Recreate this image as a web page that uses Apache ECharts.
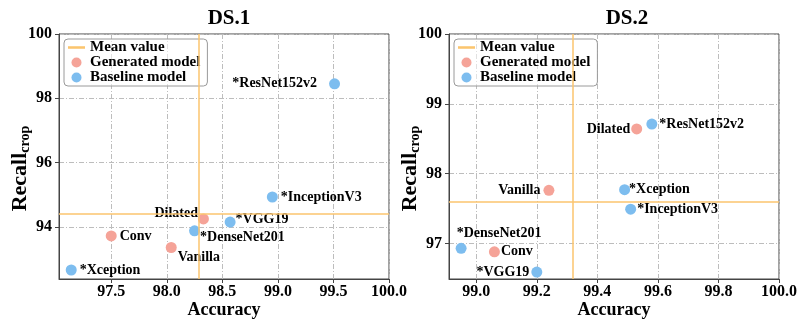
<!DOCTYPE html>
<html>
<head>
<meta charset="utf-8">
<script src="https://cdn.jsdelivr.net/npm/echarts@6/dist/echarts.min.js"></script>
<style>
  html, body { margin: 0; padding: 0; background: #fff; }
  #main { width: 809px; height: 330px; }
</style>
</head>
<body>
<div id="main"></div>
<script>
// ---- data ----
var ds1GenNames = ['Dilated', 'Conv', 'Vanilla'];
var ds1GenAcc = [98.33, 97.50, 98.04];
var ds1GenRecall = [94.25, 93.72, 93.36];

var ds1BaseNames = ['*ResNet152v2', '*InceptionV3', '*VGG19', '*DenseNet201', '*Xception'];
var ds1BaseAcc = [99.51, 98.95, 98.57, 98.25, 97.14];
var ds1BaseRecall = [98.45, 94.93, 94.15, 93.88, 92.66];

var ds2GenNames = ['Dilated', 'Vanilla', 'Conv'];
var ds2GenAcc = [99.53, 99.24, 99.06];
var ds2GenRecall = [98.64, 97.76, 96.88];

var ds2BaseNames = ['*ResNet152v2', '*Xception', '*InceptionV3', '*DenseNet201', '*VGG19'];
var ds2BaseAcc = [99.58, 99.49, 99.51, 98.95, 99.20];
var ds2BaseRecall = [98.71, 97.77, 97.49, 96.93, 96.59];

var ds1XTicks = [97.5, 98.0, 98.5, 99.0, 99.5, 100.0];
var ds1YTicks = [94, 96, 98, 100];
var ds2XTicks = [99.0, 99.2, 99.4, 99.6, 99.8, 100.0];
var ds2YTicks = [97, 98, 99, 100];

var ds1XRange = [97.03, 100];
var ds1YRange = [92.38, 100];
var ds2XRange = [98.91, 100];
var ds2YRange = [96.49, 100];

// ---- styling ----
var FONT = '"Liberation Serif", "Times New Roman", serif';
var GEN_COLOR = '#F5A398';
var BASE_COLOR = '#7DBDEF';
var MEAN_COLOR = '#FBC56E';
var GRID_LINE = { color: '#bdbdbd', width: 1, type: [5, 2, 1, 2] };
// thin bar for the "Mean value" legend entry (the bare M points keep the box 20x10)
var MEAN_ICON = 'path://M0,0 M0,3.5 L20,3.5 L20,6.5 L0,6.5 Z M20,10';

// where each point label sits (per chart)
var labelPos1 = {
  'Dilated': { position: 'left', distance: 0, offset: [0, -5] },
  'Conv': { position: 'right', distance: 3 },
  'Vanilla': { position: 'right', distance: 1, offset: [0, 10] },
  '*ResNet152v2': { position: 'left', distance: 12 },
  '*InceptionV3': { position: 'right', distance: 3 },
  '*VGG19': { position: 'right', distance: 0, offset: [0, -3] },
  '*DenseNet201': { position: 'right', distance: 0, offset: [0, 7] },
  '*Xception': { position: 'right', distance: 3 }
};
var labelPos2 = {
  'Dilated': { position: 'left', distance: 1 },
  'Vanilla': { position: 'left', distance: 3 },
  'Conv': { position: 'right', distance: 1 },
  '*ResNet152v2': { position: 'right', distance: 2 },
  '*Xception': { position: 'right', distance: -1 },
  '*InceptionV3': { position: 'right', distance: 1 },
  '*DenseNet201': { position: 'top', distance: 2, offset: [38, 0] },
  '*VGG19': { position: 'left', distance: 2 }
};

function points(names, xs, ys, pos) {
  return names.map(function (n, i) {
    return { name: n, value: [xs[i], ys[i]], label: pos[n] };
  });
}

function mean(arr) {
  var s = 0;
  arr.forEach(function (v) { s += v; });
  return s / arr.length;
}

var pointLabel = {
  show: true,
  formatter: '{b}',
  color: '#000',
  fontFamily: FONT,
  fontWeight: 'bold',
  fontSize: 14
};

function scatter(name, color, idx, data) {
  return {
    name: name,
    type: 'scatter',
    xAxisIndex: idx,
    yAxisIndex: idx,
    symbolSize: 11,
    itemStyle: { color: color, opacity: 1 },
    label: pointLabel,
    data: data,
    z: 3
  };
}

function meanSeries(idx, mx, my) {
  return {
    name: 'Mean value',
    type: 'line',
    xAxisIndex: idx,
    yAxisIndex: idx,
    symbol: 'none',
    lineStyle: { color: MEAN_COLOR, width: 3 },
    itemStyle: { color: MEAN_COLOR },
    data: [[mx, my]],
    markLine: {
      silent: true,
      symbol: ['none', 'none'],
      label: { show: false },
      lineStyle: { color: MEAN_COLOR, width: 1.5, type: 'solid' },
      emphasis: { disabled: true },
      data: [{ xAxis: mx }, { yAxis: my }]
    },
    z: 2
  };
}

function xAxis(idx, range, ticks) {
  return {
    type: 'value',
    gridIndex: idx,
    min: range[0],
    max: range[1],
    name: 'Accuracy',
    nameLocation: 'middle',
    nameGap: 22,
    nameMoveOverlap: false,
    nameTextStyle: { fontFamily: FONT, fontWeight: 'bold', fontSize: 18, color: '#000' },
    axisLine: { show: true, lineStyle: { color: '#444', width: 1 } },
    axisTick: { show: true, length: 4, lineStyle: { color: '#444' }, customValues: ticks },
    axisLabel: {
      customValues: ticks,
      margin: 5,
      color: '#000',
      fontFamily: FONT,
      fontWeight: 'bold',
      fontSize: 16,
      formatter: function (v) { return v.toFixed(1); }
    },
    splitLine: { show: true, lineStyle: GRID_LINE }
  };
}

function yAxis(idx, range, ticks) {
  return {
    type: 'value',
    gridIndex: idx,
    min: range[0],
    max: range[1],
    name: '{a|Recall}{b|crop}',
    nameLocation: 'middle',
    nameGap: 27,
    nameMoveOverlap: false,
    nameRotate: 90,
    nameTextStyle: {
      padding: [0, 24, 0, 0],
      rich: {
        a: { fontFamily: FONT, fontWeight: 'bold', fontSize: 22, color: '#000', lineHeight: 22, padding: [0, 0, 2, 0] },
        b: { fontFamily: FONT, fontWeight: 'bold', fontSize: 14, color: '#000', lineHeight: 14, verticalAlign: 'bottom' }
      }
    },
    axisLine: { show: true, lineStyle: { color: '#444', width: 1 } },
    axisTick: { show: true, length: 4, lineStyle: { color: '#444' }, customValues: ticks },
    axisLabel: {
      customValues: ticks,
      margin: 7,
      color: '#000',
      fontFamily: FONT,
      fontWeight: 'bold',
      fontSize: 16,
      formatter: function (v) { return String(Math.round(v)); }
    },
    splitLine: { show: true, lineStyle: GRID_LINE }
  };
}

function legend(left) {
  return {
    orient: 'vertical',
    left: left,
    top: 39,
    padding: [1, 7, 1, 4],
    itemGap: 0,
    itemWidth: 17,
    itemHeight: 10,
    backgroundColor: 'rgba(255,255,255,0.55)',
    borderColor: '#9a9a9a',
    borderWidth: 1,
    borderRadius: 4,
    textStyle: { fontFamily: FONT, fontWeight: 'bold', fontSize: 15, color: '#000', lineHeight: 14.6 },
    data: [
      { name: 'Mean value', icon: MEAN_ICON, itemStyle: { color: MEAN_COLOR } },
      { name: 'Generated model', icon: 'circle' },
      { name: 'Baseline model', icon: 'circle' }
    ]
  };
}

var chart = echarts.init(document.getElementById('main'), null, { renderer: 'canvas' });

var all1x = ds1GenAcc.concat(ds1BaseAcc), all1y = ds1GenRecall.concat(ds1BaseRecall);
var all2x = ds2GenAcc.concat(ds2BaseAcc), all2y = ds2GenRecall.concat(ds2BaseRecall);

var option = {
  animation: false,
  backgroundColor: '#fff',
  title: [
    { text: 'DS.1', left: 224, top: 3, textAlign: 'center',
      textStyle: { fontFamily: FONT, fontWeight: 'bold', fontSize: 21, color: '#000' } },
    { text: 'DS.2', left: 622, top: 3, textAlign: 'center',
      textStyle: { fontFamily: FONT, fontWeight: 'bold', fontSize: 21, color: '#000' } }
  ],
  legend: [legend(64), legend(454)],
  grid: [
    { left: 59, top: 34, width: 330, height: 245, show: true, borderColor: '#444', borderWidth: 1, backgroundColor: 'transparent' },
    { left: 449, top: 34, width: 330, height: 245, show: true, borderColor: '#444', borderWidth: 1, backgroundColor: 'transparent' }
  ],
  xAxis: [xAxis(0, ds1XRange, ds1XTicks), xAxis(1, ds2XRange, ds2XTicks)],
  yAxis: [yAxis(0, ds1YRange, ds1YTicks), yAxis(1, ds2YRange, ds2YTicks)],
  series: [
    meanSeries(0, mean(all1x), mean(all1y)),
    scatter('Generated model', GEN_COLOR, 0, points(ds1GenNames, ds1GenAcc, ds1GenRecall, labelPos1)),
    scatter('Baseline model', BASE_COLOR, 0, points(ds1BaseNames, ds1BaseAcc, ds1BaseRecall, labelPos1)),
    meanSeries(1, mean(all2x), mean(all2y)),
    scatter('Generated model', GEN_COLOR, 1, points(ds2GenNames, ds2GenAcc, ds2GenRecall, labelPos2)),
    scatter('Baseline model', BASE_COLOR, 1, points(ds2BaseNames, ds2BaseAcc, ds2BaseRecall, labelPos2))
  ]
};

chart.setOption(option);
</script>
</body>
</html>
